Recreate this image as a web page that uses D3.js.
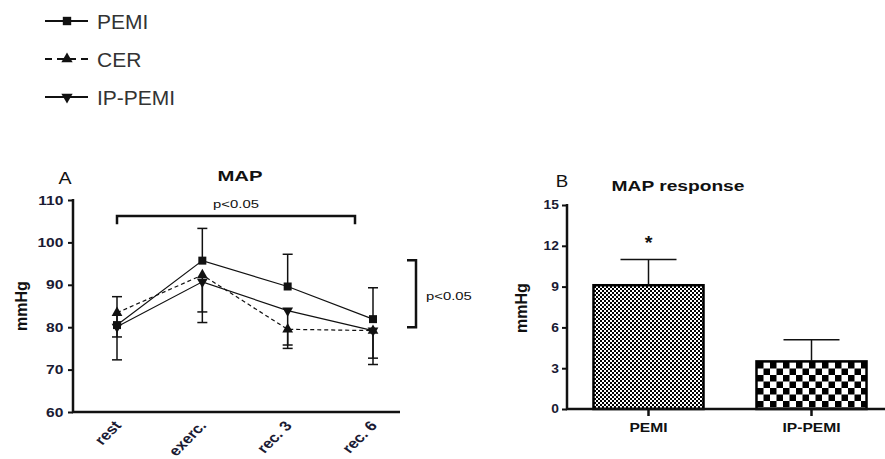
<!DOCTYPE html>
<html>
<head>
<meta charset="utf-8">
<script src="https://cdn.jsdelivr.net/npm/d3@7"></script>
<style>
  body { margin: 0; background: #fff; }
  svg { display: block; font-family: "Liberation Sans", Arial, sans-serif; }
</style>
</head>
<body>
<svg id="chart" width="885" height="459"></svg>
<script>
// panel A data
let categories = ["rest", "exerc.", "rec. 3", "rec. 6"];
let pemiMean = [80.5, 95.7, 89.6, 81.9];
let pemiErr = [6.7, 7.6, 7.6, 7.4];      // drawn above
let cerMean = [83.4, 92.3, 79.5, 79.2];
let cerErr = [5.7, 8.7, 3.7, 8.0];       // drawn below
let ipMean = [80.1, 90.7, 83.9, 79.2];
let ipErr = [7.8, 9.6, 8.9, 6.5];        // drawn below
let yTicksA = [60, 70, 80, 90, 100, 110];

// panel B data
let barCats = ["PEMI", "IP-PEMI"];
let barMeans = [9.1, 3.5];
let barErr = [1.9, 1.6];
let yTicksB = [0, 3, 6, 9, 12, 15];

let series = [
    { name: "PEMI", mean: pemiMean, err: pemiErr, dir: 1, symbol: d3.symbolSquare, size: 64, rot: 0, dash: null },
    { name: "CER", mean: cerMean, err: cerErr, dir: -1, symbol: d3.symbolTriangle, size: 50, rot: 0, dash: "4,3" },
    { name: "IP-PEMI", mean: ipMean, err: ipErr, dir: -1, symbol: d3.symbolTriangle, size: 50, rot: 180, dash: null }
];

let svg = d3.select("#chart");
let ink = "#111";
let sx = 1.35;

function label(g, x, y, str, size, weight, anchor, stretch) {
    return g.append("text")
        .attr("transform", "translate(" + x + "," + y + ") scale(" + (stretch || sx) + ",1)")
        .attr("font-size", size + "px")
        .attr("font-weight", weight)
        .attr("text-anchor", anchor)
        .attr("fill", ink)
        .text(str);
}

// ---------- legend ----------
let legend = svg.append("g");
series.forEach((s, i) => {
    let y = 21 + i * 38;
    legend.append("line")
        .attr("x1", 45).attr("x2", 88).attr("y1", y).attr("y2", y)
        .attr("stroke", ink).attr("stroke-width", 2)
        .attr("stroke-dasharray", s.dash ? "7,5" : null);
    legend.append("path")
        .attr("d", d3.symbol().type(s.symbol).size(s.size * 1.1)())
        .attr("transform", "translate(67," + y + ") rotate(" + s.rot + ")")
        .attr("fill", ink);
    legend.append("text")
        .attr("x", 97).attr("y", y + 7.5)
        .attr("font-size", "21px")
        .attr("fill", "#333")
        .text(s.name);
});

// ---------- panel A ----------
let gA = svg.append("g");
let xA = d3.scalePoint().domain(categories).range([117, 373]);
let yA = d3.scaleLinear().domain([60, 110]).range([412, 200]);

let axisA = gA.append("g")
    .attr("transform", "translate(73,0)")
    .call(d3.axisLeft(yA).tickValues(yTicksA).tickSize(5).tickPadding(3));
axisA.select(".domain").remove();
axisA.selectAll(".tick line").attr("stroke", ink).attr("stroke-width", 2);
axisA.selectAll(".tick text")
    .attr("font-size", "13px").attr("font-weight", "bold").attr("fill", "#1a1a33")
    .attr("font-family", "Liberation Sans, Arial, sans-serif")
    .attr("transform", "scale(1.2,1)");

gA.append("path")
    .attr("d", "M73," + (yA(110) - 1) + "V" + yA(60) + "H400")
    .attr("fill", "none").attr("stroke", ink).attr("stroke-width", 2.5);

categories.forEach(c => {
    gA.append("text")
        .attr("transform", "translate(" + (xA(c) + 5) + ",426) scale(1.2,1) rotate(-50)")
        .attr("font-size", "14px").attr("font-weight", "bold")
        .attr("text-anchor", "end").attr("fill", "#1a1a33")
        .text(c);
});

let lineA = d3.line().x((d, i) => xA(categories[i])).y(d => yA(d));

series.forEach(s => {
    gA.append("path")
        .attr("d", lineA(s.mean))
        .attr("fill", "none").attr("stroke", ink).attr("stroke-width", 1.2)
        .attr("stroke-dasharray", s.dash);
});

series.forEach(s => {
    s.mean.forEach((m, i) => {
        let x = xA(categories[i]);
        let yEnd = yA(m + s.dir * s.err[i]);
        gA.append("line")
            .attr("x1", x).attr("x2", x).attr("y1", yA(m)).attr("y2", yEnd)
            .attr("stroke", ink).attr("stroke-width", 1.5);
        gA.append("line")
            .attr("x1", x - 5).attr("x2", x + 5).attr("y1", yEnd).attr("y2", yEnd)
            .attr("stroke", ink).attr("stroke-width", 1.5);
    });
});

series.forEach(s => {
    gA.selectAll(null)
        .data(s.mean)
        .enter()
        .append("path")
        .attr("d", d3.symbol().type(s.symbol).size(s.size)())
        .attr("transform", (d, i) => "translate(" + xA(categories[i]) + "," + yA(d) + ") rotate(" + s.rot + ")")
        .attr("fill", ink);
});

// significance brackets
let bx1 = xA("rest"), bx2 = xA("rec. 6") - 18;
gA.append("path")
    .attr("d", "M" + bx1 + "," + yA(104.3) + "V" + yA(106.2) + "H" + bx2 + "V" + yA(104.3))
    .attr("fill", "none").attr("stroke", ink).attr("stroke-width", 2.5);
label(gA, (bx1 + bx2) / 2, yA(108.1), "p<0.05", 11, "normal", "middle");

gA.append("path")
    .attr("d", "M407," + yA(95.8) + "H416V" + yA(80) + "H407")
    .attr("fill", "none").attr("stroke", ink).attr("stroke-width", 2.5);
label(gA, 426, yA(87.4) + 4, "p<0.05", 11, "normal", "start");

label(gA, 240, 181, "MAP", 14, "bold", "middle", 1.45);
label(gA, 65, 184, "A", 17, "normal", "middle", 1.15);
gA.append("text")
    .attr("transform", "translate(27,306) rotate(-90)")
    .attr("font-size", "16px").attr("font-weight", "bold")
    .attr("text-anchor", "middle").attr("fill", ink)
    .text("mmHg");

// ---------- panel B ----------
let defs = svg.append("defs");
let fine = defs.append("pattern").attr("id", "fine")
    .attr("patternUnits", "userSpaceOnUse").attr("width", 4).attr("height", 4);
fine.append("rect").attr("width", 4).attr("height", 4).attr("fill", "#fff");
fine.append("rect").attr("width", 2).attr("height", 2).attr("fill", "#000");
fine.append("rect").attr("x", 2).attr("y", 2).attr("width", 2).attr("height", 2).attr("fill", "#000");

let coarse = defs.append("pattern").attr("id", "coarse")
    .attr("patternUnits", "userSpaceOnUse").attr("width", 13).attr("height", 13)
    .attr("x", 757).attr("y", 362);
coarse.append("rect").attr("width", 13).attr("height", 13).attr("fill", "#fff");
coarse.append("rect").attr("width", 6.5).attr("height", 6.5).attr("fill", "#000");
coarse.append("rect").attr("x", 6.5).attr("y", 6.5).attr("width", 6.5).attr("height", 6.5).attr("fill", "#000");

let fills = ["url(#fine)", "url(#coarse)"];

let gB = svg.append("g");
let xB = d3.scaleBand().domain(barCats).range([567, 893]).paddingInner(0.325).paddingOuter(0.1625);
let yB = d3.scaleLinear().domain([0, 15]).range([409, 205]);

let axisB = gB.append("g")
    .attr("transform", "translate(567,0)")
    .call(d3.axisLeft(yB).tickValues(yTicksB).tickSize(5).tickPadding(2));
axisB.select(".domain").remove();
axisB.selectAll(".tick line").attr("stroke", ink).attr("stroke-width", 2);
axisB.selectAll(".tick text")
    .attr("font-size", "12px").attr("font-weight", "bold").attr("fill", "#1a1a33")
    .attr("font-family", "Liberation Sans, Arial, sans-serif")
    .attr("transform", "scale(1.15,1)");

gB.selectAll(".bar")
    .data(barMeans)
    .enter()
    .append("rect")
    .attr("class", "bar")
    .attr("x", (d, i) => xB(barCats[i]))
    .attr("y", d => yB(d))
    .attr("width", xB.bandwidth())
    .attr("height", d => yB(0) - yB(d))
    .attr("fill", (d, i) => fills[i])
    .attr("stroke", "#000").attr("stroke-width", 2.5);

barMeans.forEach((m, i) => {
    let cx = xB(barCats[i]) + xB.bandwidth() / 2;
    let yEnd = yB(m + barErr[i]);
    gB.append("line")
        .attr("x1", cx).attr("x2", cx).attr("y1", yB(m)).attr("y2", yEnd)
        .attr("stroke", ink).attr("stroke-width", 1.5);
    gB.append("line")
        .attr("x1", cx - 28).attr("x2", cx + 28).attr("y1", yEnd).attr("y2", yEnd)
        .attr("stroke", ink).attr("stroke-width", 1.5);
    gB.append("line")
        .attr("x1", cx).attr("x2", cx).attr("y1", yB(0)).attr("y2", yB(0) + 7)
        .attr("stroke", ink).attr("stroke-width", 2.5);
    label(gB, cx, 432, barCats[i], 12, "bold", "middle", 1.3);
});

gB.append("path")
    .attr("d", "M567," + (yB(15) - 1) + "V" + yB(0) + "H885")
    .attr("fill", "none").attr("stroke", ink).attr("stroke-width", 2.5);

let pemiCx = xB("PEMI") + xB.bandwidth() / 2;
label(gB, pemiCx, yB(barMeans[0] + barErr[0]) - 10, "*", 18, "bold", "middle", 1.1);

label(gB, 678, 191, "MAP response", 14, "bold", "middle", 1.37);
label(gB, 562, 187, "B", 17, "normal", "middle", 1.1);
gB.append("text")
    .attr("transform", "translate(527,308) rotate(-90)")
    .attr("font-size", "16px").attr("font-weight", "bold")
    .attr("text-anchor", "middle").attr("fill", ink)
    .text("mmHg");
</script>
</body>
</html>
